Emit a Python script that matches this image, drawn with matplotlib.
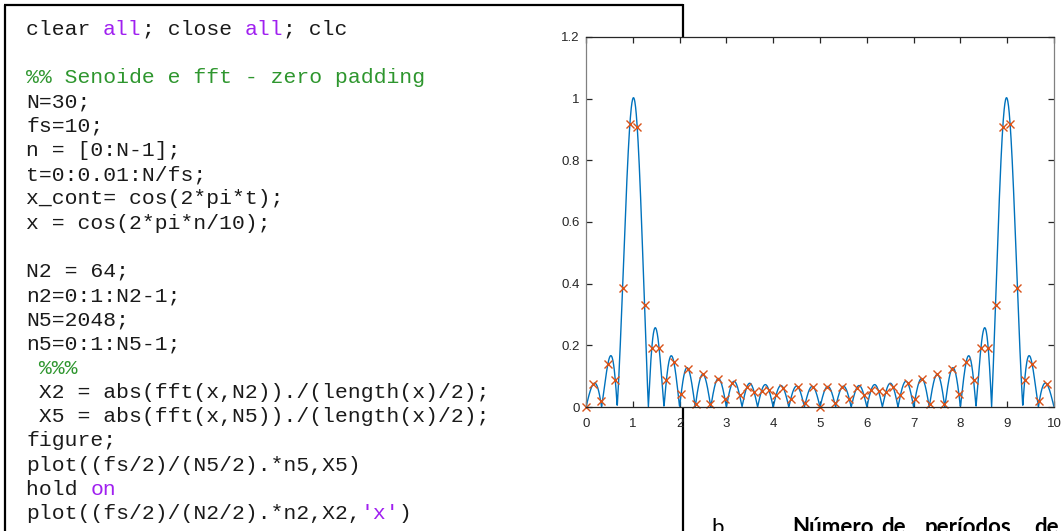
import numpy as np
import matplotlib
matplotlib.use('Agg')
import matplotlib.pyplot as plt

# amostras do sinal x = cos(2*pi*n/10), n = 0..29
x = [1.0, 0.8090, 0.3090, -0.3090, -0.8090, -1.0, -0.8090, -0.3090, 0.3090, 0.8090,
     1.0, 0.8090, 0.3090, -0.3090, -0.8090, -1.0, -0.8090, -0.3090, 0.3090, 0.8090,
     1.0, 0.8090, 0.3090, -0.3090, -0.8090, -1.0, -0.8090, -0.3090, 0.3090, 0.8090]
fs = 10
N2 = 64
N5 = 2048

xticks = [0, 1, 2, 3, 4, 5, 6, 7, 8, 9, 10]
yticks = [0, 0.2, 0.4, 0.6, 0.8, 1.0, 1.2]
ytick_labels = ['0', '0.2', '0.4', '0.6', '0.8', '1', '1.2']

# listagem do codigo (trecho, cor)
preto = '#1a1a1a'
roxo = '#A020F0'
verde = '#2E962E'
codigo = [
    [('clear ', preto), ('all', roxo), ('; close ', preto), ('all', roxo), ('; clc', preto)],
    [],
    [('%% Senoide e fft - zero padding', verde)],
    [('N=30;', preto)],
    [('fs=10;', preto)],
    [('n = [0:N-1];', preto)],
    [('t=0:0.01:N/fs;', preto)],
    [('x_cont= cos(2*pi*t);', preto)],
    [('x = cos(2*pi*n/10);', preto)],
    [],
    [('N2 = 64;', preto)],
    [('n2=0:1:N2-1;', preto)],
    [('N5=2048;', preto)],
    [('n5=0:1:N5-1;', preto)],
    [(' %%%', verde)],
    [(' X2 = abs(fft(x,N2))./(length(x)/2);', preto)],
    [(' X5 = abs(fft(x,N5))./(length(x)/2);', preto)],
    [('figure;', preto)],
    [('plot((fs/2)/(N5/2).*n5,X5)', preto)],
    [('hold ', preto), ('on', roxo)],
    [('plot((fs/2)/(N2/2).*n2,X2,', preto), ("'x'", roxo), (')', preto)],
]

legenda = ['Número', 'de', 'períodos', 'de']
legenda_x = [792, 881, 925, 1034]

# fft com zero padding
X2 = np.abs(np.fft.fft(x, N2)) / (len(x) / 2)
X5 = np.abs(np.fft.fft(x, N5)) / (len(x) / 2)
f2 = (fs / 2) / (N2 / 2) * np.arange(N2)
f5 = (fs / 2) / (N5 / 2) * np.arange(N5)

W, H = 1064, 531
fig = plt.figure(figsize=(W / 100, H / 100), dpi=100)
fig.patch.set_facecolor('white')

# fundo em pixels: caixa do codigo e texto
bg = fig.add_axes([0, 0, 1, 1], zorder=0)
bg.set_xlim(0, W)
bg.set_ylim(H, 0)
bg.axis('off')

bg.plot([5, 5], [5, H + 5], color='black', lw=1.6, solid_capstyle='butt')
bg.plot([4.2, 683], [5, 5], color='black', lw=1.6, solid_capstyle='butt')
bg.plot([683, 683], [4.2, H + 5], color='black', lw=1.6, solid_capstyle='butt')

char_w = 12.85
y0 = 35
dy = 24.2
for i, linha in enumerate(codigo):
    col = 0
    for trecho, cor in linha:
        bg.text(26 + col * char_w, y0 + i * dy, trecho, color=cor,
                family='Liberation Mono', fontsize=15.4, va='baseline', ha='left')
        col += len(trecho)

bg.text(711, 534, 'b.', family='Lato', fontsize=16, va='baseline', ha='left')
for palavra, px in zip(legenda, legenda_x):
    bg.text(px, 534, palavra, family='Lato', fontweight='bold', fontsize=16,
            va='baseline', ha='left')

# grafico da fft
ax = fig.add_axes([586 / W, 1 - 407 / H, (1054 - 586) / W, (407 - 37) / H], zorder=1)
ax.set_facecolor('white')
ax.plot(f5, X5, color='#0072BD', lw=1.0)
ax.plot(f2, X2, 'x', color='#D95319', ms=5.5, mew=1.0, clip_on=False)
ax.set_xlim(0, 10)
ax.set_ylim(0, 1.2)
ax.set_xticks(xticks)
ax.set_yticks(yticks)
ax.set_yticklabels(ytick_labels)
ax.tick_params(direction='in', length=4.5, width=0.9, colors='#262626',
               labelsize=9.5, top=True, right=True)
ax.tick_params(axis='x', pad=8)
ax.tick_params(axis='y', pad=4.5)
for lab in ax.get_xticklabels() + ax.get_yticklabels():
    lab.set_family('Liberation Sans')
ax.spines['top'].set_color('#262626')
ax.spines['bottom'].set_color('#262626')
ax.spines['left'].set_color('#808080')
ax.spines['right'].set_color('#808080')
for s in ax.spines.values():
    s.set_linewidth(0.9)

fig.savefig('out.png', dpi=100)
